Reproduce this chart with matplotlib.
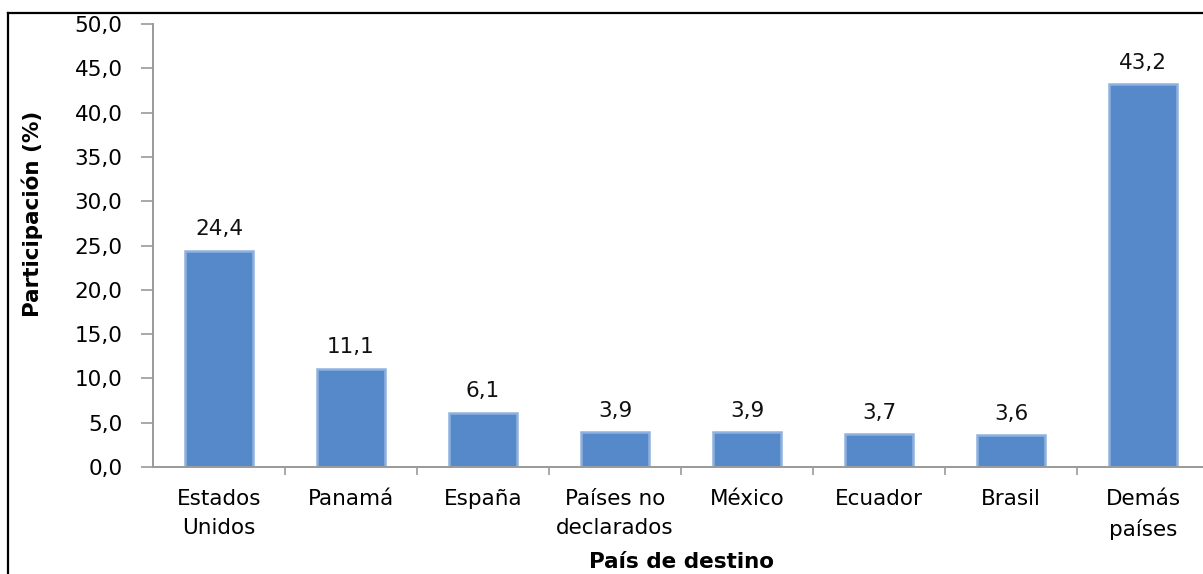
import matplotlib.pyplot as plt
from matplotlib.lines import Line2D
import numpy as np

paises = ["Estados\nUnidos", "Panamá", "España", "Países no\ndeclarados",
          "México", "Ecuador", "Brasil", "Demás\npaíses"]
participacion = [24.4, 11.1, 6.1, 3.9, 3.9, 3.7, 3.6, 43.2]
yticks = np.arange(0, 50.1, 5)

plt.rcParams['font.family'] = ['DejaVu Sans']
fs = 15.5

fig = plt.figure(figsize=(12.03, 5.74), dpi=100)
ax = fig.add_axes([0.1272, 0.1864, 0.8778, 0.7716])

x = np.arange(len(paises))
bars = ax.bar(x, participacion, width=0.51, color='#5589c9',
              edgecolor='#8fb1df', linewidth=1.8)

for xi, v in zip(x, participacion):
    ax.text(xi, v + 1.3, f"{v:.1f}".replace('.', ','), ha='center', va='bottom',
            fontsize=fs, color='#111111')

ax.set_xlim(-0.5, len(paises) - 0.5)
ax.set_ylim(0, 50)
ax.set_yticks(yticks)
ax.set_yticklabels([f"{t:.1f}".replace('.', ',') for t in yticks], fontsize=fs)
ax.set_xticks(x)
ax.set_xticklabels(paises, fontsize=fs, linespacing=1.55)
ax.set_xticks(np.arange(0.5, len(paises) - 0.5, 1), minor=True)
ax.tick_params(axis='x', which='major', length=0, pad=16)
ax.tick_params(axis='x', which='minor', length=6, color='#9a9a9a', width=1.2)
ax.tick_params(axis='y', length=9, color='#9a9a9a', width=1.2, pad=13)

for s in ['top', 'right']:
    ax.spines[s].set_visible(False)
for s in ['left', 'bottom']:
    ax.spines[s].set_color('#9a9a9a')
    ax.spines[s].set_linewidth(1.4)

ax.set_ylabel("Participación (%)", fontsize=fs, fontweight='bold')
ax.yaxis.set_label_coords(-0.104, 0.571)
ax.set_xlabel("País de destino", fontsize=fs, fontweight='bold', labelpad=9)

# marco exterior (recortado)
fig.add_artist(Line2D([8/1203, 1], [1 - 13/574, 1 - 13/574], color='k', lw=1.6,
                      transform=fig.transFigure))
fig.add_artist(Line2D([8/1203, 8/1203], [0, 1 - 13/574], color='k', lw=1.6,
                      transform=fig.transFigure))

plt.savefig('out.png', dpi=100)
